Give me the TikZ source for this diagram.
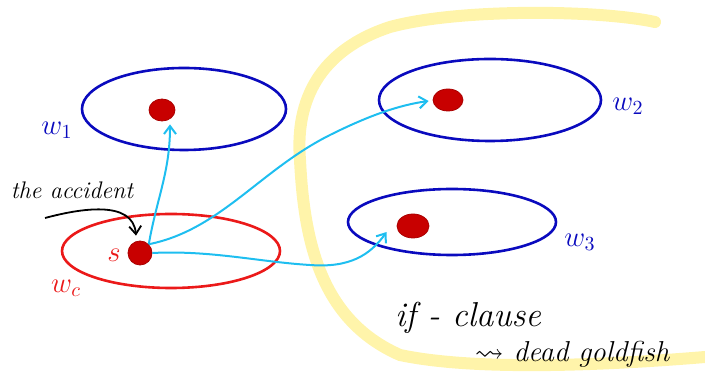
\documentclass[tikz,border=0pt]{standalone}
\usepackage{amsmath,amssymb}
\usepackage{tikz}
\usetikzlibrary{arrows.meta,positioning,calc,shapes.geometric}
\usepackage{xcolor}
\definecolor{worldblue}{RGB}{10,10,190}
\definecolor{actred}{RGB}{235,25,25}
\definecolor{dotred}{RGB}{200,0,0}
\definecolor{simcyan}{RGB}{30,190,240}
\definecolor{clauseyellow}{RGB}{255,244,170}
\tikzset{
  wd/.style={ellipse,draw=worldblue,line width=1.3pt,inner sep=0pt},
  wdA/.style={wd,draw=actred},
  pt/.style={ellipse,fill=dotred,draw=dotred!85!black,inner sep=0pt,
             minimum width=13pt,minimum height=11pt},
  sim/.style={-{Straight Barb[length=4pt,width=6pt]},simcyan,line width=1pt},
  wlbl/.style={text=worldblue,font=\Large},
  albl/.style={text=actred,font=\Large},
  hand/.style={font=\large\itshape},
}

\begin{document}
\begin{tikzpicture}[x=0.5pt,y=-0.5pt]
    \useasboundingbox (0,0) rectangle (705,378);
    % the if-clause region
    \draw[clauseyellow,line width=6pt,line cap=round]
      (655,22) .. controls (600,10) and (460,8) .. (390,27)
      .. controls (320,50) and (295,100) .. (300,160)
      .. controls (304,240) and (320,320) .. (400,355)
      .. controls (480,372) and (620,364) .. (705,357);
    % worlds
    \node[wd,minimum width=102pt,minimum height=41pt] (w1) at (184,109) {};
    \node[wd,minimum width=111pt,minimum height=41pt] (w2) at (490,100) {};
    \node[wd,minimum width=104pt,minimum height=33pt] (w3) at (452,222) {};
    \node[wdA,minimum width=109pt,minimum height=37pt] (wc) at (171,251) {};
    % points
    \node[pt] (p1) at (162,110) {};
    \node[pt,minimum width=15pt] (p2) at (448,100) {};
    \node[pt,minimum width=16pt,minimum height=12pt] (p3) at (413,226) {};
    \node[pt,minimum width=12pt,minimum height=12pt] (s) at (140,253) {};
    % labels
    \node[wlbl] at (57,130) {$w_1$};
    \node[wlbl] at (628,106) {$w_2$};
    \node[wlbl] at (580,242) {$w_3$};
    \node[albl] at (66,288) {$w_c$};
    \node[albl] at (114,255) {$s$};
    \node[hand] (acc) at (72,190) {the accident};
    \coordinate (acctail) at (45,218);
    \draw[-{Straight Barb[length=4pt,width=6pt]},line width=0.9pt]
      (acctail) to[out=15,in=95] ($(s.north)+(-4,-5)$);
    % similarity arrows
    \draw[sim] (s.north east) to[out=80,in=-90] ($(p1.south)+(8,3)$);
    \draw[sim] (s.north east) .. controls (220,230) and (260,170) .. (330,135)
      .. controls (370,115) and (400,105) .. ($(p2.west)+(-4,1)$);
    \draw[sim] (s.east) .. controls (210,250) and (260,262) .. (310,265)
      .. controls (350,268) and (370,255) .. ($(p3.west)+(-10,6)$);
    % the clause
    \node[hand,font=\LARGE\itshape] (ifc) at (468,318) {if - clause};
    \node[hand,font=\Large\itshape] (gold) at (572,354) {$\leadsto$ dead goldfish};
\end{tikzpicture}
\end{document}
